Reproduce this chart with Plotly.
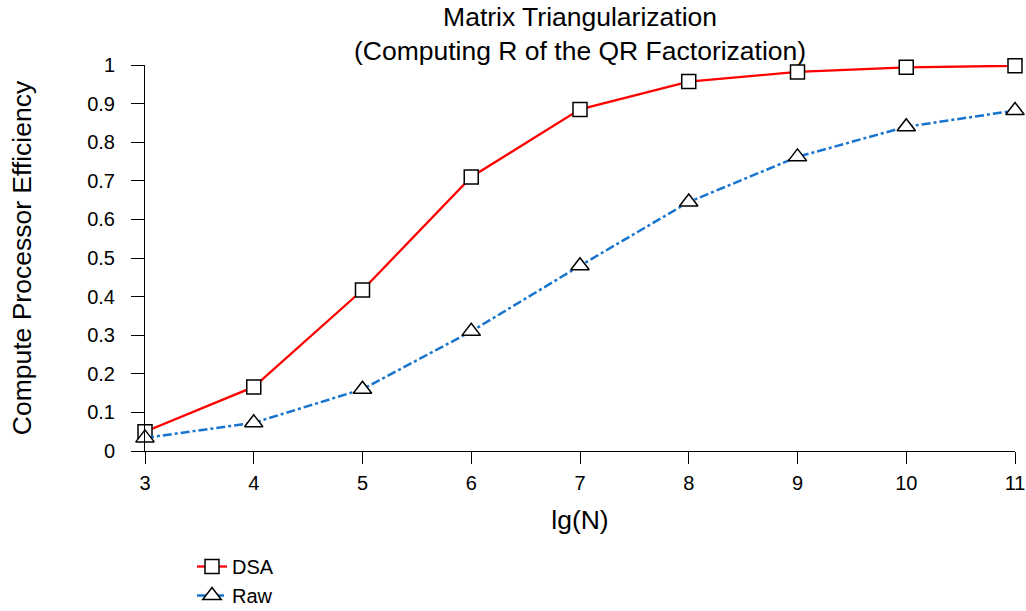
import plotly.graph_objects as go

lgN = [3, 4, 5, 6, 7, 8, 9, 10, 11]
dsa = [0.05, 0.166, 0.417, 0.71, 0.885, 0.957, 0.982, 0.994, 0.998]
raw = [0.034, 0.073, 0.16, 0.31, 0.48, 0.645, 0.762, 0.84, 0.882]
yticks = [0, 0.1, 0.2, 0.3, 0.4, 0.5, 0.6, 0.7, 0.8, 0.9, 1]
yticktext = ["0", "0.1", "0.2", "0.3", "0.4", "0.5", "0.6", "0.7", "0.8", "0.9", "1"]
title_text = "Matrix Triangularization<br>(Computing R of the QR Factorization)"

FONT = "Liberation Sans, Arial, sans-serif"
L, R, T, B = 145, 11, 65, 160
W, H = 1026, 611
PW, PH = W - L - R, H - T - B


def px_x(x):
    return (x - L) / PW


def px_y(y):
    return (H - B - y) / PH


fig = go.Figure()
fig.add_trace(go.Scatter(
    x=lgN, y=dsa, name="DSA", mode="lines+markers",
    line=dict(color="#FF0000", width=2.3),
    marker=dict(symbol="square", size=14, color="white", line=dict(color="black", width=1.5)),
    cliponaxis=False,
))
fig.add_trace(go.Scatter(
    x=lgN, y=raw, name="Raw", mode="lines+markers",
    line=dict(color="#1874CD", width=2.5, dash="dashdot"),
    marker=dict(symbol="triangle-up", size=16, color="white", line=dict(color="black", width=1.5)),
    cliponaxis=False,
))

fig.add_annotation(
    text=title_text, xref="paper", yref="paper",
    x=0.5, y=px_y(34), xanchor="center", yanchor="middle",
    showarrow=False, font=dict(size=26.5, family=FONT, color="black"),
)

fig.update_layout(
    width=W, height=H,
    margin=dict(l=L, r=R, t=T, b=B, autoexpand=False),
    paper_bgcolor="white", plot_bgcolor="white",
    font=dict(family=FONT, size=20, color="black"),
    showlegend=True,
    legend=dict(
        x=px_x(192), xanchor="left", y=px_y(547), yanchor="top",
        font=dict(size=20, family=FONT), bgcolor="rgba(0,0,0,0)",
    ),
)
fig.update_xaxes(
    range=[3, 11], tickvals=lgN, showgrid=False, zeroline=False,
    showline=True, linecolor="black", linewidth=1,
    ticks="outside", ticklen=12, tickcolor="black", tickwidth=1,
    ticklabelstandoff=2,
    title=dict(text="lg(N)", font=dict(size=26.5, family=FONT), standoff=17),
    tickfont=dict(size=20, family=FONT), automargin=False,
)
fig.update_yaxes(
    range=[0, 1], tickvals=yticks, ticktext=yticktext, showgrid=False, zeroline=False,
    showline=True, linecolor="black", linewidth=1,
    ticks="outside", ticklen=13, tickcolor="black", tickwidth=1,
    ticklabelstandoff=12,
    title=dict(text="Compute Processor Efficiency", font=dict(size=26.5, family=FONT), standoff=47),
    tickfont=dict(size=20, family=FONT), automargin=False,
)

fig.write_html("out.html")
